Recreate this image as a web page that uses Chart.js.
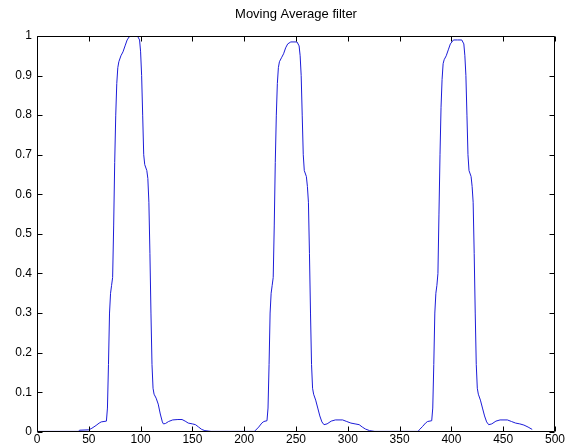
<!DOCTYPE html>
<html>
<head>
<meta charset="utf-8">
<script src="https://cdn.jsdelivr.net/npm/chart.js@4.4.1/dist/chart.umd.min.js"></script>
<style>
  html, body { margin: 0; padding: 0; background: #ffffff; }
  #wrap { width: 582px; height: 444px; position: relative; }
</style>
</head>
<body>
<div id="wrap"><canvas id="c" width="582" height="444"></canvas></div>
<script>
// ---- data ----
const chartTitle = 'Moving Average filter';
const xTickLabels = ['0','50','100','150','200','250','300','350','400','450','500'];
const yTickLabels = ['0','0.1','0.2','0.3','0.4','0.5','0.6','0.7','0.8','0.9','1'];

const sampleX = [
  0, 40, 41, 50, 53, 57, 60, 62, 67,
  68, 69, 70, 71, 72, 73, 74, 75, 76, 77, 78, 79, 81, 83, 85, 87, 89, 91, 97, 99,
  100, 101, 102, 103, 104, 106, 107, 108, 109, 110, 111, 112, 113, 115, 117, 119, 121, 122, 124, 127, 131, 136, 140, 143, 146, 150, 153, 156, 159, 162, 168,
  210, 211, 214, 217, 219, 222,
  223, 224, 225, 226, 227, 228, 229, 230, 231, 232, 233, 234, 236, 238, 240, 242, 245, 251, 253,
  254, 255, 256, 257, 258, 260, 261, 262, 263, 264, 265, 266, 267, 269, 271, 273, 275, 277, 280, 284, 288, 295, 299, 303, 307, 311, 314, 317, 321, 326,
  368, 369, 372, 375, 377, 381,
  382, 383, 384, 385, 386, 387, 388, 389, 390, 391, 392, 393, 395, 397, 399, 402, 406, 410, 412,
  413, 414, 415, 416, 417, 419, 420, 421, 422, 423, 424, 425, 426, 428, 430, 432, 434, 436, 439, 443, 447, 454, 458, 462, 466, 470, 474, 478
];
const filteredY = [
  0.001, 0.001, 0.004, 0.005, 0.009, 0.016, 0.022, 0.025, 0.027,
  0.06, 0.17, 0.30, 0.35, 0.37, 0.39, 0.52, 0.68, 0.80, 0.88, 0.92, 0.935, 0.95, 0.96, 0.975, 0.99, 0.998, 1.0, 1.0, 0.99,
  0.96, 0.90, 0.80, 0.70, 0.675, 0.66, 0.64, 0.58, 0.45, 0.30, 0.17, 0.11, 0.095, 0.085, 0.07, 0.045, 0.025, 0.02, 0.021, 0.026, 0.030, 0.031, 0.031, 0.027, 0.022, 0.020, 0.018, 0.012, 0.006, 0.003, 0.001,
  0.001, 0.004, 0.012, 0.022, 0.026, 0.028,
  0.06, 0.17, 0.30, 0.35, 0.37, 0.39, 0.52, 0.68, 0.80, 0.88, 0.92, 0.935, 0.945, 0.955, 0.97, 0.98, 0.985, 0.985, 0.975,
  0.95, 0.90, 0.80, 0.70, 0.66, 0.645, 0.62, 0.58, 0.45, 0.30, 0.17, 0.11, 0.095, 0.08, 0.06, 0.04, 0.025, 0.018, 0.020, 0.027, 0.030, 0.030, 0.026, 0.022, 0.020, 0.018, 0.012, 0.007, 0.003, 0.001,
  0.001, 0.005, 0.013, 0.022, 0.026, 0.028,
  0.06, 0.17, 0.30, 0.35, 0.37, 0.40, 0.55, 0.70, 0.82, 0.89, 0.93, 0.94, 0.95, 0.965, 0.98, 0.99, 0.99, 0.99, 0.98,
  0.95, 0.90, 0.80, 0.70, 0.66, 0.645, 0.62, 0.58, 0.45, 0.30, 0.17, 0.11, 0.095, 0.08, 0.06, 0.04, 0.025, 0.018, 0.020, 0.027, 0.030, 0.030, 0.026, 0.022, 0.020, 0.017, 0.012, 0.006
];

const FONT = "'Liberation Sans', Arial, Helvetica, sans-serif";
const points = sampleX.map((x, i) => ({ x: x, y: filteredY[i] }));

// title centred over the axes, box + inward ticks (MATLAB style), positioned through the chart's scales
const boxPlugin = {
  id: 'matlabBox',
  afterDraw(chart) {
    const { ctx, chartArea: a } = chart;
    const xs = chart.scales.x, ys = chart.scales.y;
    const L = Math.round(a.left) + 0.5, R = Math.round(a.right) - 0.5;
    const T = Math.round(a.top) + 0.5, B = Math.round(a.bottom) - 0.5;
    ctx.save();
    ctx.fillStyle = '#000';
    ctx.font = '13px ' + FONT;
    ctx.textAlign = 'center';
    ctx.textBaseline = 'middle';
    ctx.fillText(chartTitle, (a.left + a.right) / 2, 14);
    ctx.strokeStyle = '#000';
    ctx.lineWidth = 1;
    ctx.beginPath();
    ctx.rect(L, T, R - L, B - T);
    const tl = 5;
    xs.ticks.forEach(t => {
      const p = Math.round(xs.getPixelForValue(t.value)) + 0.5;
      ctx.moveTo(p, B); ctx.lineTo(p, B - tl);
      ctx.moveTo(p, T); ctx.lineTo(p, T + tl);
    });
    ys.ticks.forEach(t => {
      const p = Math.round(ys.getPixelForValue(t.value)) + 0.5;
      ctx.moveTo(L, p); ctx.lineTo(L + tl, p);
      ctx.moveTo(R, p); ctx.lineTo(R - tl, p);
    });
    ctx.stroke();
    ctx.restore();
  }
};

new Chart(document.getElementById('c'), {
  type: 'line',
  data: {
    datasets: [{
      data: points,
      borderColor: '#1c1cd8',
      borderWidth: 1,
      pointRadius: 0,
      tension: 0,
      fill: false
    }]
  },
  options: {
    responsive: false,
    devicePixelRatio: 1,
    animation: false,
    layout: { padding: { left: 0, right: 27, top: 36, bottom: 0 } },
    plugins: {
      legend: { display: false },
      tooltip: { enabled: false },
      title: { display: false }
    },
    scales: {
      x: {
        type: 'linear',
        min: 0, max: 500,
        grid: { display: false, drawTicks: false },
        border: { display: false },
        afterFit(s) { s.height = 12; },
        ticks: {
          stepSize: 50,
          padding: 1,
          color: '#000',
          font: { family: FONT, size: 12 },
          maxRotation: 0,
          callback: (v, i) => xTickLabels[i]
        }
      },
      y: {
        type: 'linear',
        min: 0, max: 1,
        grid: { display: false, drawTicks: false },
        border: { display: false },
        afterFit(s) { s.width = 37; },
        ticks: {
          stepSize: 0.1,
          padding: 5,
          color: '#000',
          font: { family: FONT, size: 12 },
          callback: (v, i) => yTickLabels[i]
        }
      }
    }
  },
  plugins: [boxPlugin]
});
</script>
</body>
</html>
